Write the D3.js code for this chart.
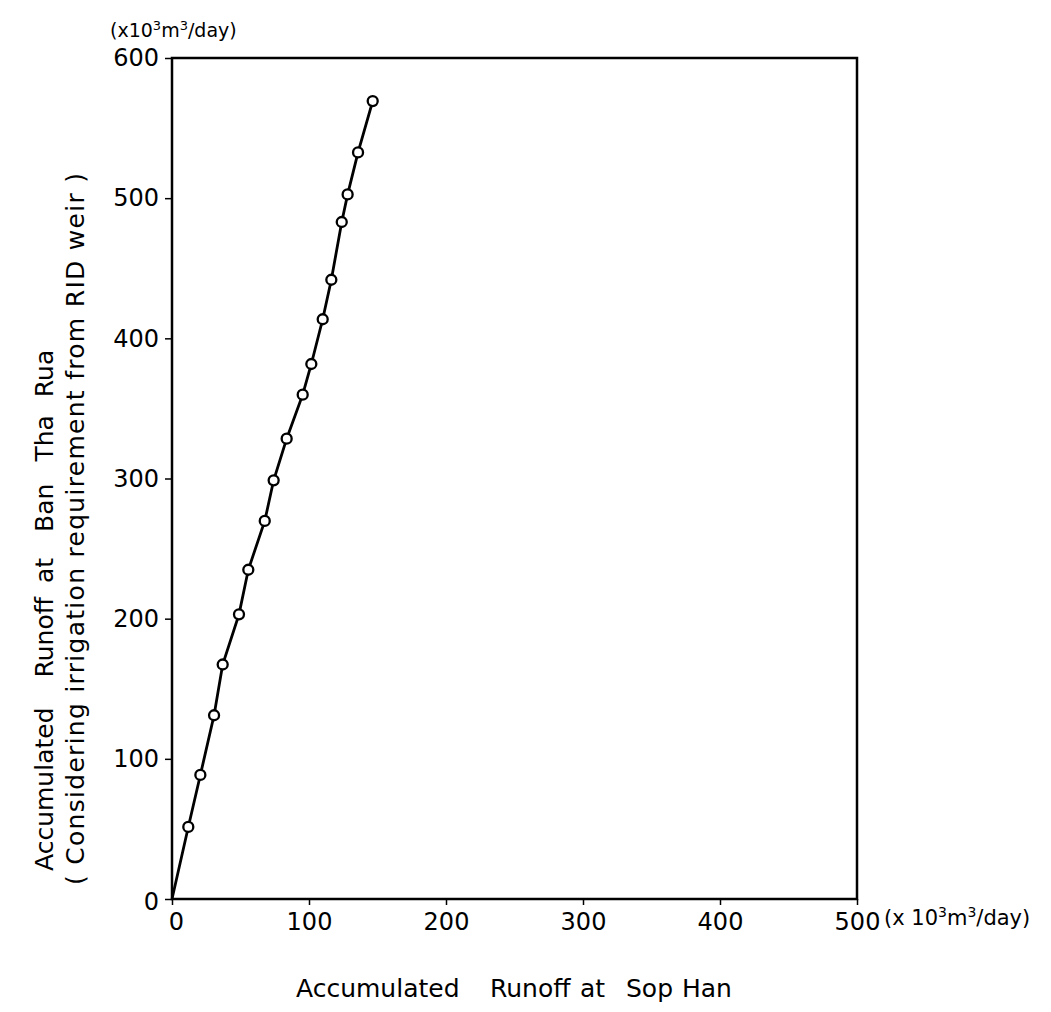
<!DOCTYPE html>
<html>
<head>
<meta charset="utf-8">
<script src="https://cdn.jsdelivr.net/npm/d3@7"></script>
<style>
  body { margin: 0; background: #fff; }
  svg text { font-family: "DejaVu Sans", sans-serif; fill: #000; }
</style>
</head>
<body>
<svg id="chart" width="1051" height="1012"></svg>
<script>
// accumulated runoff, x10^3 m3/day
var sopHan = [0, 11.9, 20.7, 30.7, 37.0, 48.9, 55.7, 67.7, 74.2, 83.7, 95.4, 101.7, 110.0, 116.3, 123.9, 128.2, 135.8, 146.5];
var banThaRua = [0, 51.4, 88.5, 131.1, 167.3, 203.1, 234.9, 269.7, 298.7, 328.4, 359.8, 381.7, 413.6, 441.8, 483.0, 502.7, 532.6, 569.3];
var xTicks = [0, 100, 200, 300, 400, 500];
var yTicks = [0, 100, 200, 300, 400, 500, 600];

var margin = {left: 172, top: 58, right: 194, bottom: 113};
var width = 1051 - margin.left - margin.right;
var height = 1012 - margin.top - margin.bottom;

var svg = d3.select('#chart');
var g = svg.append('g')
    .attr('transform', 'translate(' + margin.left + ',' + margin.top + ')');

var x = d3.scaleLinear().domain([0, 500]).range([0, width]);
var y = d3.scaleLinear().domain([0, 600]).range([height, 0]);

// frame
g.append('rect')
    .attr('width', width)
    .attr('height', height)
    .attr('fill', 'none')
    .attr('stroke', '#000')
    .attr('stroke-width', 2.5);

var xAxis = g.append('g')
    .attr('transform', 'translate(0,' + height + ')')
    .call(d3.axisBottom(x).tickValues(xTicks).tickSize(6).tickPadding(8));

var yAxis = g.append('g')
    .call(d3.axisLeft(y).tickValues(yTicks).tickSize(7).tickPadding(6));

[xAxis, yAxis].forEach(function(a) {
    a.select('.domain').remove();
    a.selectAll('.tick line').attr('stroke', '#000').attr('stroke-width', 1.5);
    a.selectAll('text')
        .attr('font-size', '24px')
        .style('font-family', '"DejaVu Sans", sans-serif')
        .attr('fill', '#000');
});

// y "0" sits a bit low, x "0" nudged right like the original
yAxis.selectAll('.tick text').filter(function(d) { return d === 0; }).attr('dy', '0.45em');
xAxis.selectAll('.tick text').filter(function(d) { return d === 0; }).attr('dx', '4px');

// line + markers
var pts = sopHan.map(function(v, i) { return [v, banThaRua[i]]; });

g.append('path')
    .datum(pts)
    .attr('fill', 'none')
    .attr('stroke', '#000')
    .attr('stroke-width', 2.8)
    .attr('d', d3.line()
        .x(function(d) { return x(d[0]); })
        .y(function(d) { return y(d[1]); }));

g.selectAll('.pt')
    .data(pts.slice(1))
    .enter()
    .append('circle')
    .attr('class', 'pt')
    .attr('cx', function(d) { return x(d[0]); })
    .attr('cy', function(d) { return y(d[1]); })
    .attr('r', 5)
    .attr('fill', '#fff')
    .attr('stroke', '#000')
    .attr('stroke-width', 2.3);

// units
function unitLabel(sel, pre, small, shift) {
    sel.append('tspan').text(pre);
    sel.append('tspan').attr('dy', -shift).attr('font-size', small).text('3');
    sel.append('tspan').attr('dy', shift).text('m');
    sel.append('tspan').attr('dy', -shift).attr('font-size', small).text('3');
    sel.append('tspan').attr('dy', shift).text('/day)');
}
unitLabel(svg.append('text').attr('x', 110).attr('y', 37).attr('font-size', '19px'),
    '(x10', '13px', 7);
unitLabel(svg.append('text').attr('x', 884).attr('y', 925).attr('font-size', '21px'),
    '(x 10', '14px', 8);

// axis titles, words spaced like the typed original
var xTitle = svg.append('text')
    .attr('y', 997)
    .attr('font-size', '25px');
[['Accumulated', 296], ['Runoff', 490], ['at', 580], ['Sop', 626], ['Han', 682]].forEach(function(w) {
    xTitle.append('tspan').attr('x', w[1]).text(w[0]);
});

// gap before each word, along the rotated baseline
var yTitle = svg.append('text')
    .attr('transform', 'translate(53,871) rotate(-90)')
    .attr('font-size', '25px');
[['Accumulated', 0], ['Runoff', 30], ['at', 14], ['Ban', 26], ['Tha', 22], ['Rua', 18]].forEach(function(w) {
    yTitle.append('tspan').attr('dx', w[1]).text(w[0]);
});

svg.append('text')
    .attr('transform', 'translate(84,885) rotate(-90)')
    .attr('font-size', '25px')
    .attr('textLength', 712)
    .attr('lengthAdjust', 'spacing')
    .attr('xml:space', 'preserve')
    .text('( Considering irrigation requirement from RID weir )');
</script>
</body>
</html>
